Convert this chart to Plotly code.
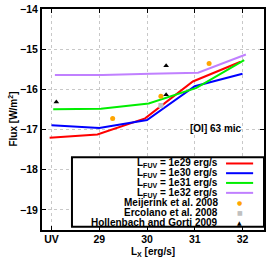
import plotly.graph_objects as go

# ---- data ----
series_names = ["L<sub>FUV</sub> = 1e29 erg/s", "L<sub>FUV</sub> = 1e30 erg/s",
                "L<sub>FUV</sub> = 1e31 erg/s", "L<sub>FUV</sub> = 1e32 erg/s"]
series_colors = ["#ff0000", "#0000ff", "#00ee00", "#c080ff"]
red_x = [27.96, 28.96, 29.96, 30.96, 31.96]
red_y = [-17.20, -17.12, -16.72, -15.80, -15.31]
blue_x = [28.0, 29.0, 30.0, 31.0, 32.0]
blue_y = [-16.89, -16.96, -16.76, -15.92, -15.61]
green_x = [28.035, 29.035, 30.035, 31.035, 32.035]
green_y = [-16.49, -16.48, -16.35, -15.96, -15.27]
purple_x = [28.07, 29.07, 30.07, 31.07, 32.07]
purple_y = [-15.64, -15.64, -15.61, -15.58, -15.13]

meij_x = [29.28, 30.29, 31.30]
meij_y = [-16.72, -16.17, -15.35]
erco_x = [30.29]
erco_y = [-16.40]
holl_x = [28.10, 30.40, 30.40]
holl_y = [-16.31, -16.13, -15.41]

obs_names = ["Meijerink et al. 2008", "Ercolano et al. 2008", "Hollenbach and Gorti 2009"]
obs_colors = ["#ffa500", "#c0c0c0", "#000000"]
obs_symbols = ["●", "■", "▲"]

tick_vals = [28, 29, 30, 31, 32]
tick_text = ["UV", "29", "30", "31", "32"]
y_ticks = [-14, -15, -16, -17, -18, -19]

FONT = "Liberation Sans"
TXT = dict(size=10, family=FONT, color="black", weight="bold")

fig = go.Figure()
line_sets = [(red_x, red_y), (blue_x, blue_y), (green_x, green_y), (purple_x, purple_y)]
for (xs, ys), c, n in zip(line_sets, series_colors, series_names):
    fig.add_trace(go.Scatter(x=xs, y=ys, mode="lines", name=n,
                             line=dict(color=c, width=2), showlegend=False))

fig.add_trace(go.Scatter(x=meij_x, y=meij_y, mode="markers", name=obs_names[0],
                         marker=dict(color=obs_colors[0], size=5, symbol="circle"), showlegend=False))
fig.add_trace(go.Scatter(x=erco_x, y=erco_y, mode="markers", name=obs_names[1],
                         marker=dict(color=obs_colors[1], size=5, symbol="square"), showlegend=False))
fig.add_trace(go.Scatter(x=holl_x, y=holl_y, mode="markers", name=obs_names[2],
                         marker=dict(color=obs_colors[2], size=5, symbol="triangle-up"), showlegend=False))

# ---- custom legend (text right, sample on the right side) ----
shapes = [dict(type="rect", xref="paper", yref="paper", x0=0.135, x1=1.0, y0=0.015, y1=0.329,
               fillcolor="white", line=dict(color="black", width=2), layer="above")]
annotations = []
row_y = [0.301, 0.257, 0.213, 0.168, 0.124, 0.079, 0.036]
for i, (n, c) in enumerate(zip(series_names, series_colors)):
    annotations.append(dict(x=0.804, y=row_y[i], xref="paper", yref="paper", text=n,
                            showarrow=False, xanchor="right", yanchor="middle", font=TXT))
    shapes.append(dict(type="line", xref="paper", yref="paper", x0=0.829, x1=0.951,
                       y0=row_y[i], y1=row_y[i], line=dict(color=c, width=2), layer="above"))
for j, (n, c, s) in enumerate(zip(obs_names, obs_colors, obs_symbols)):
    k = 4 + j
    annotations.append(dict(x=0.804, y=row_y[k], xref="paper", yref="paper", text=n,
                            showarrow=False, xanchor="right", yanchor="middle", font=TXT))
    annotations.append(dict(x=0.8915, y=row_y[k], xref="paper", yref="paper", text=s,
                            showarrow=False, xanchor="center", yanchor="middle",
                            font=dict(size=6, family="DejaVu Sans", color=c)))

annotations.append(dict(x=0.911, y=0.459, xref="paper", yref="paper", text="[OI] 63 mic",
                        showarrow=False, xanchor="right", yanchor="middle", font=TXT))
# axis titles
annotations.append(dict(x=0.5, y=-0.098, xref="paper", yref="paper", text="L<sub>X</sub> [erg/s]",
                        showarrow=False, xanchor="center", yanchor="middle", font=TXT))
annotations.append(dict(x=-0.135, y=0.5, xref="paper", yref="paper", text="Flux [W/m<sup>2</sup>]",
                        showarrow=False, xanchor="center", yanchor="middle", textangle=-90, font=TXT))

fig.update_layout(
    width=269, height=261,
    margin=dict(l=42, r=3, t=5, b=31),
    paper_bgcolor="white", plot_bgcolor="white",
    font=dict(family=FONT, size=10.5, color="black", weight="bold"),
    shapes=shapes, annotations=annotations,
)
fig.update_xaxes(range=[27.8, 32.45], tickvals=tick_vals, ticktext=tick_text,
                 ticks="inside", ticklen=4, tickwidth=1, tickcolor="black",
                 showline=True, linecolor="black", linewidth=2, mirror="ticks",
                 showgrid=True, gridcolor="#c8c8c8", griddash="dot", gridwidth=1,
                 zeroline=False, ticklabelstandoff=-2, ticklabeloverflow="allow")
fig.update_yaxes(range=[-19.5, -13.995], tickvals=y_ticks,
                 ticks="inside", ticklen=4, tickwidth=1, tickcolor="black",
                 showline=True, linecolor="black", linewidth=2, mirror="ticks",
                 showgrid=True, gridcolor="#c8c8c8", griddash="dot", gridwidth=1,
                 zeroline=False, ticklabeloverflow="allow")

fig.write_html("out.html", config={"displayModeBar": False},
               post_script="document.body.style.margin='0px';")
